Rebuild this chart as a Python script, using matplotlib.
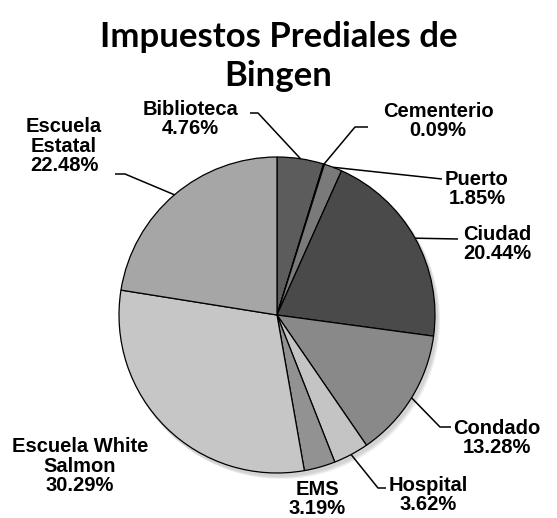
import numpy as np
import matplotlib
matplotlib.use("Agg")
import matplotlib.pyplot as plt
from matplotlib.patches import Circle

# data
labels = ["Biblioteca", "Cementerio", "Puerto", "Ciudad", "Condado",
          "Hospital", "EMS", "Escuela White\nSalmon", "Escuela\nEstatal"]
values = [4.76, 0.09, 1.85, 20.44, 13.28, 3.62, 3.19, 30.29, 22.48]
colors = ["#5c5c5c", "#7c7c7c", "#7a7a7a", "#4a4a4a", "#898989",
          "#c4c4c4", "#929292", "#c6c6c6", "#a6a6a6"]

W, H = 557, 518
fig = plt.figure(figsize=(W / 100, H / 100), dpi=100)
ax = fig.add_axes([0, 0, 1, 1])

cx, cy, r = 277, H - 315, 158

# soft shadow
for i in range(3):
    ax.add_patch(Circle((cx + 2 + i, cy - 3 - i), r + 1, color="black",
                        alpha=0.06, lw=0, zorder=0))

wedges, _ = ax.pie(values, colors=colors, startangle=90, counterclock=False,
                   center=(cx, cy), radius=r, frame=True,
                   wedgeprops=dict(edgecolor="black", linewidth=0.9))

ax.set_xlim(0, W)
ax.set_ylim(0, H)
ax.axis("off")

# label centers (pixels) and leader elbows
label_pos = [(190, 119), (438, 121), (477, 189), (497, 244), (497, 438),
             (428, 495), (317, 499), (80, 466), (64, 146)]
leaders = {
    0: [(258, 113), (250, 113)],
    1: [(355, 127), (368, 127)],
    2: [(442, 179)],
    3: [(458, 239)],
    4: [(440, 427), (451, 427)],
    5: [(378, 488), (386, 488)],
    8: [(125, 174), (115, 174)],
}

font = dict(family=["Liberation Sans", "DejaVu Sans"], fontweight="bold",
            fontsize=14.5)

for i, (lab, v) in enumerate(zip(labels, values)):
    x, y = label_pos[i]
    ax.text(x, H - y, f"{lab}\n{v:.2f}%", ha="center", va="center",
            linespacing=1.02, **font)
    if i in leaders:
        w = wedges[i]
        ang = np.deg2rad((w.theta1 + w.theta2) / 2)
        pts = [(cx + r * np.cos(ang), cy + r * np.sin(ang))]
        pts += [(px, H - py) for px, py in leaders[i]]
        xs, ys = zip(*pts)
        ax.plot(xs, ys, color="black", lw=1.1, solid_capstyle="butt")

fig.text(0.5, 1 - 37 / H, "Impuestos Prediales de", ha="center", va="center",
         family=["Lato", "DejaVu Sans"], fontweight="bold", fontsize=25)
fig.text(0.5, 1 - 76 / H, "Bingen", ha="center", va="center",
         family=["Lato", "DejaVu Sans"], fontweight="bold", fontsize=25)

fig.savefig("out.png", dpi=100)
